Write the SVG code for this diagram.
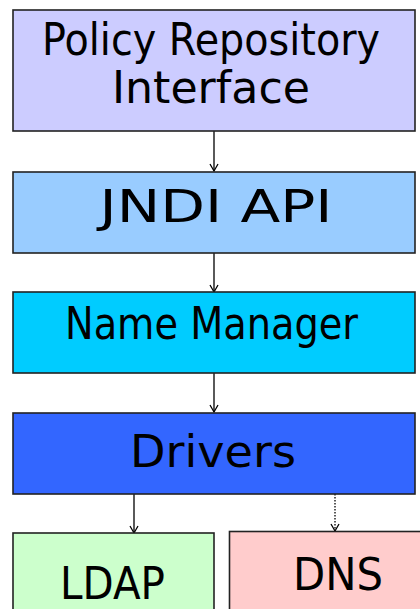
<svg xmlns="http://www.w3.org/2000/svg" width="420" height="609" viewBox="0 0 420 609">
  <defs>
    <style>
      .box { stroke: #222; stroke-width: 1.6; }
      .lbl { font-family: "Comic Sans MS", "DejaVu Sans", sans-serif; font-size: 44px; fill: #000; text-anchor: middle; }
      .wire { stroke: #000; stroke-width: 1.3; fill: none; }
    </style>
    <!-- open "V" arrowhead, drawn along +x so orient=auto points it down the line -->
    <marker id="head" markerWidth="10" markerHeight="10" refX="8" refY="5" orient="auto" markerUnits="userSpaceOnUse" viewBox="0 0 10 10">
      <path d="M1,1 L8,5 L1,9" fill="none" stroke="#000" stroke-width="1.3"/>
    </marker>
  </defs>
  <rect width="420" height="609" fill="#fff"/>

  <g id="connectors">
    <line class="wire" x1="214" y1="131" x2="214" y2="171" marker-end="url(#head)"/>
    <line class="wire" x1="214" y1="253" x2="214" y2="292" marker-end="url(#head)"/>
    <line class="wire" x1="214" y1="373" x2="214" y2="412" marker-end="url(#head)"/>
    <line class="wire" x1="134" y1="494" x2="134" y2="533" marker-end="url(#head)"/>
    <line class="wire" x1="335" y1="494" x2="335" y2="531" stroke-dasharray="1.5,1.5" marker-end="url(#head)"/>
  </g>

  <g id="policy-repository-interface">
    <rect class="box" x="13" y="10" width="402" height="121" fill="#CCCCFF"/>
    <text class="lbl" x="211" y="55" textLength="338" lengthAdjust="spacingAndGlyphs">Policy Repository</text>
    <text class="lbl" x="211" y="103" textLength="198" lengthAdjust="spacingAndGlyphs">Interface</text>
  </g>

  <g id="jndi-api">
    <rect class="box" x="13" y="172" width="402" height="81" fill="#99CCFF"/>
    <text class="lbl" x="216" y="222" textLength="233" lengthAdjust="spacingAndGlyphs">JNDI API</text>
  </g>

  <g id="name-manager">
    <rect class="box" x="13" y="292" width="402" height="81" fill="#00CCFF"/>
    <text class="lbl" x="211.5" y="339" textLength="293" lengthAdjust="spacingAndGlyphs">Name Manager</text>
  </g>

  <g id="drivers">
    <rect class="box" x="13" y="413" width="402" height="81" fill="#3366FF"/>
    <text class="lbl" x="213" y="467" textLength="166" lengthAdjust="spacingAndGlyphs">Drivers</text>
  </g>

  <g id="ldap">
    <rect class="box" x="13" y="533" width="201" height="90" fill="#CCFFCC"/>
    <text class="lbl" x="112.5" y="599" textLength="105" lengthAdjust="spacingAndGlyphs">LDAP</text>
  </g>

  <g id="dns">
    <rect class="box" x="229.5" y="531.5" width="200" height="90" fill="#FFCCCC" stroke="#555"/>
    <text class="lbl" x="338" y="590" textLength="90" lengthAdjust="spacingAndGlyphs">DNS</text>
  </g>
</svg>
